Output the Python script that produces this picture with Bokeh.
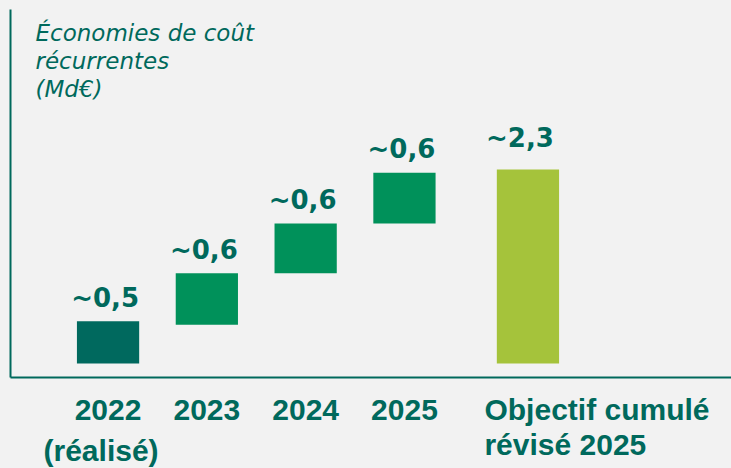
from bokeh.plotting import figure
from bokeh.models import Range1d, LinearAxis, FixedTicker, Label, GlobalInlineStyleSheet
from bokeh.core.properties import value
from bokeh.embed import file_html
from bokeh.resources import INLINE

# ---------------- data ----------------
categories = ["2022\n(réalisé)", "2023", "2024", "2025", "Objectif cumulé\nrévisé 2025"]
bar_start = [0.0, 0.46, 1.07, 1.66, 0.0]
bar_end = [0.50, 1.07, 1.66, 2.26, 2.30]
value_labels = ["~0,5", "~0,6", "~0,6", "~0,6", "~2,3"]
title_lines = ["Économies de coût", "récurrentes", "(Md€)"]

# ---------------- styles ----------------
BG = "#f2f2f2"
TEAL = "#00695c"
bar_colors = ["#00695e", "#00915a", "#00915a", "#00915a", "#a5c33b"]

W, H = 731, 468
OFF = 0       # page offset of the figure
SX = 98.8     # px per x unit
SY = 84.35    # px per y unit
X0 = 107.55   # page px of x = 0
Y0 = 363.0    # page px (from top) of y = 0
TFIX = 9.5    # text baseline correction (px, upwards)


def xd(px):  # page px -> data x
    return (px - X0) / SX


def yd(py):  # page px -> data y
    return (Y0 - py) / SY


def yt(py):  # page px of a text baseline -> data y
    return yd(py - TFIX)


n = len(categories)
x_pos = [i + (0.25 if i == n - 1 else 0.0) for i in range(n)]

p = figure(width=W, height=H, output_backend="svg", toolbar_location=None,
           x_range=Range1d(xd(OFF), xd(OFF + W)), y_range=Range1d(yd(OFF + H), yd(OFF)),
           x_axis_type=None, y_axis_type=None, min_border=0,
           background_fill_color=BG, border_fill_color=BG, outline_line_color=None)
p.grid.visible = False
p.stylesheets = [GlobalInlineStyleSheet(css="html, body { background-color: #f2f2f2; }")]

# axes (line only)
y_axis_loc = xd(9.5)
x_axis_loc = yd(377)
yaxis = LinearAxis(fixed_location=y_axis_loc, bounds=(x_axis_loc, yd(9)),
                   ticker=FixedTicker(ticks=[]), axis_line_color=TEAL, axis_line_width=2,
                   major_tick_line_color=None, minor_tick_line_color=None,
                   major_label_text_font_size="0px", major_tick_out=0, major_tick_in=0,
                   major_label_standoff=0)
xaxis = LinearAxis(fixed_location=x_axis_loc, bounds=(y_axis_loc, xd(740)),
                   ticker=FixedTicker(ticks=[]), axis_line_color=TEAL, axis_line_width=2,
                   major_tick_line_color=None, minor_tick_line_color=None,
                   major_label_text_font_size="0px", major_tick_out=0, major_tick_in=0,
                   major_label_standoff=0)
p.add_layout(yaxis, "left")
p.add_layout(xaxis, "below")

# bars
p.vbar(x=x_pos, bottom=bar_start, top=bar_end, width=0.63, color=bar_colors, line_color=None)

# value labels
inc = n - 1
p.text(x=[x - 3 / SX for x in x_pos[:inc]], y=[t + (14 + TFIX) / SY for t in bar_end[:inc]],
       text=value_labels[:inc], text_align="center", text_baseline="alphabetic",
       text_font=value("DejaVu Sans"), text_font_style="bold", text_font_size="26px",
       text_color=TEAL)
p.text(x=[x - 8 / SX for x in x_pos[inc:]], y=[t + (22 + TFIX) / SY for t in bar_end[inc:]],
       text=value_labels[inc:], text_align="center", text_baseline="alphabetic",
       text_font=value("DejaVu Sans"), text_font_style="bold", text_font_size="26px",
       text_color=TEAL)

# category labels
first = [c.split("\n")[0] for c in categories]
second = [c.split("\n")[1] if "\n" in c else "" for c in categories]
cat_font = dict(text_font=value("Liberation Sans"), text_font_style="bold",
                text_font_size="30px", text_color=TEAL, text_baseline="alphabetic")
p.text(x=x_pos[:inc], y=[yt(418.5)] * inc, text=first[:inc], text_align="center", **cat_font)
p.text(x=[x - 7 / SX for x in x_pos[:inc]], y=[yt(459)] * inc, text=second[:inc],
       text_align="center", **cat_font)
p.text(x=[x - 43.5 / SX for x in x_pos[inc:]], y=[yt(418.5)], text=first[inc:],
       text_align="left", **cat_font)
p.text(x=[x - 43.5 / SX for x in x_pos[inc:]], y=[yt(453)], text=second[inc:],
       text_align="left", **cat_font)

# title (axis caption)
for i, line in enumerate(title_lines):
    p.add_layout(Label(x=xd(35), y=yt(42.3 + 27.7 * i), text=line,
                       text_font="DejaVu Sans", text_font_style="italic",
                       text_font_size="23px", text_color=TEAL,
                       text_baseline="alphabetic", text_align="left"))

open("out.html", "w").write(file_html(p, INLINE))
